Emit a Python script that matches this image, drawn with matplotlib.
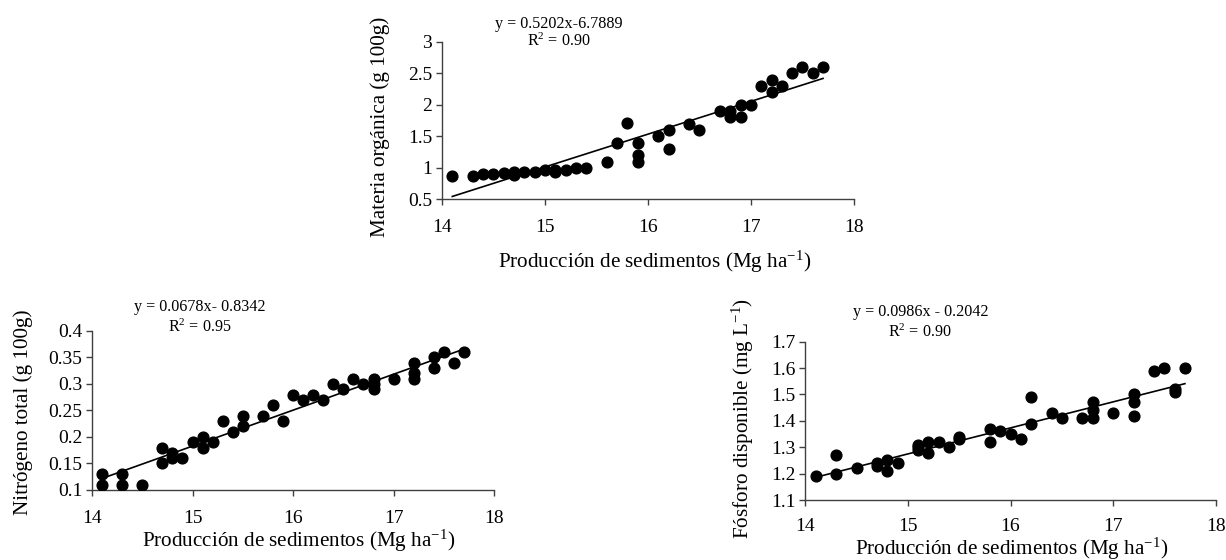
import matplotlib.pyplot as plt

plt.rcParams["font.family"] = ["Liberation Serif", "DejaVu Serif"]
plt.rcParams["mathtext.fontset"] = "custom"
plt.rcParams["mathtext.rm"] = "Liberation Serif"
plt.rcParams["mathtext.it"] = "Liberation Serif:italic"

# Materia orgánica vs producción de sedimentos
mo_x = [14.1, 14.3, 14.4, 14.5, 14.6, 14.7, 14.7, 14.8, 14.9, 15.0, 15.1, 15.1,
        15.2, 15.3, 15.4, 15.6, 15.7, 15.8, 15.9, 15.9, 15.9, 16.1, 16.2, 16.2,
        16.4, 16.5, 16.7, 16.8, 16.8, 16.9, 16.9, 17.0, 17.1, 17.2, 17.2, 17.3,
        17.4, 17.5, 17.6, 17.7]
mo_y = [0.87, 0.87, 0.90, 0.91, 0.92, 0.94, 0.88, 0.94, 0.94, 0.96, 0.97, 0.93,
        0.97, 1.00, 1.00, 1.10, 1.40, 1.71, 1.40, 1.21, 1.10, 1.50, 1.60, 1.30,
        1.70, 1.60, 1.90, 1.90, 1.80, 2.00, 1.80, 2.00, 2.30, 2.40, 2.20, 2.30,
        2.50, 2.60, 2.50, 2.60]

# Nitrógeno total
n_x = [14.1, 14.1, 14.3, 14.3, 14.5, 14.7, 14.7, 14.8, 14.8, 14.9, 15.0, 15.1,
       15.1, 15.2, 15.3, 15.4, 15.5, 15.5, 15.7, 15.8, 15.9, 16.0, 16.1, 16.2,
       16.3, 16.4, 16.5, 16.6, 16.7, 16.8, 16.8, 16.8, 17.0, 17.2, 17.2, 17.2,
       17.4, 17.4, 17.5, 17.6, 17.7]
n_y = [0.13, 0.11, 0.13, 0.11, 0.11, 0.18, 0.15, 0.17, 0.16, 0.16, 0.19, 0.20,
       0.18, 0.19, 0.23, 0.21, 0.24, 0.22, 0.24, 0.26, 0.23, 0.28, 0.27, 0.28,
       0.27, 0.30, 0.29, 0.31, 0.30, 0.31, 0.30, 0.29, 0.31, 0.34, 0.32, 0.31,
       0.35, 0.33, 0.36, 0.34, 0.36]

# Fósforo disponible
p_x = [14.1, 14.3, 14.3, 14.5, 14.7, 14.7, 14.8, 14.8, 14.9, 15.1, 15.1, 15.1,
       15.2, 15.2, 15.3, 15.4, 15.5, 15.5, 15.8, 15.8, 15.9, 16.0, 16.1, 16.2,
       16.2, 16.4, 16.5, 16.7, 16.8, 16.8, 16.8, 17.0, 17.2, 17.2, 17.2, 17.4,
       17.5, 17.6, 17.6, 17.7]
p_y = [1.19, 1.27, 1.20, 1.22, 1.24, 1.23, 1.25, 1.21, 1.24, 1.31, 1.30, 1.29,
       1.32, 1.28, 1.32, 1.30, 1.34, 1.33, 1.37, 1.32, 1.36, 1.35, 1.33, 1.49,
       1.39, 1.43, 1.41, 1.41, 1.47, 1.44, 1.41, 1.43, 1.50, 1.47, 1.42, 1.59,
       1.60, 1.52, 1.51, 1.60]

# printed regression coefficients (slope, intercept)
mo_fit = (0.5202, -6.7889)
n_fit = (0.0678, -0.8342)
p_fit = (0.0986, -0.2042)

XLABEL = "Producción de sedimentos (Mg ha$^{-1}$)"
SPINE = "#404040"
W, H = 1226, 560


def px(x, y):
    # pixel position -> figure fraction
    return x / W, 1 - y / H


def panel(fig, ax, x, y, fit, ylim, yticks, ylabel, eq, r2, eq_pos, r2_y,
          ylab_px, xlab_px, xpad=10.5):
    ax.scatter(x, y, s=60, color="black", zorder=3)
    x0, x1 = min(x), max(x)
    ax.plot([x0, x1], [fit[0] * x0 + fit[1], fit[0] * x1 + fit[1]],
            color="black", lw=1.2, zorder=2)
    ax.set_xlim(14, 18)
    ax.set_ylim(*ylim)
    ax.set_xticks([14, 15, 16, 17, 18])
    ax.set_yticks(yticks)
    ax.set_yticklabels([f"{t:g}" for t in yticks])
    for s in ["top", "right"]:
        ax.spines[s].set_visible(False)
    for s in ["left", "bottom"]:
        ax.spines[s].set_color(SPINE)
        ax.spines[s].set_linewidth(1.0)
    ax.tick_params(direction="out", length=4, width=1.0, color=SPINE,
                   labelsize=14)
    ax.tick_params(axis="x", pad=xpad)
    ax.tick_params(axis="y", pad=3)

    fig.text(*px(*ylab_px), ylabel, rotation=90, ha="center", va="center",
             fontsize=15.2)
    fig.text(*px(*xlab_px), XLABEL, ha="center", va="center", fontsize=15.2)

    tr = ax.get_xaxis_transform()
    ax.text(eq_pos[0], eq_pos[1], eq, transform=tr, ha="center", va="center",
            fontsize=11.6)
    ax.text(eq_pos[0], r2_y, r2, transform=tr, ha="center", va="center",
            fontsize=11.6)


def main():
    fig = plt.figure(figsize=(12.26, 5.6), dpi=100)

    ax1 = fig.add_axes([0.3605, 0.644, 0.336, 0.2814])
    panel(fig, ax1, mo_x, mo_y, mo_fit, (0.5, 3), [0.5, 1, 1.5, 2, 2.5, 3],
          "Materia orgánica (g 100g)", "y = 0.5202x-6.7889", "R$^2$ = 0.90",
          (15.13, 1.115), 1.0, (380, 127), (655, 262))

    ax2 = fig.add_axes([0.0750, 0.125, 0.3281, 0.284])
    panel(fig, ax2, n_x, n_y, n_fit, (0.1, 0.4),
          [0.1, 0.15, 0.2, 0.25, 0.3, 0.35, 0.4],
          "Nitrógeno total (g 100g)", "y = 0.0678x- 0.8342", "R$^2$ = 0.95",
          (15.07, 1.148), 1.025, (23, 412), (299, 541))

    ax3 = fig.add_axes([0.6569, 0.1071, 0.3347, 0.2827])
    panel(fig, ax3, p_x, p_y, p_fit, (1.1, 1.7),
          [1.1, 1.2, 1.3, 1.4, 1.5, 1.6, 1.7],
          "Fósforo disponible (mg L$^{-1}$)", "y = 0.0986x - 0.2042",
          "R$^2$ = 0.90", (15.12, 1.185), 1.06, (743, 418), (1012, 549),
          xpad=9)

    fig.savefig("out.png", dpi=100)


if __name__ == "__main__":
    main()
